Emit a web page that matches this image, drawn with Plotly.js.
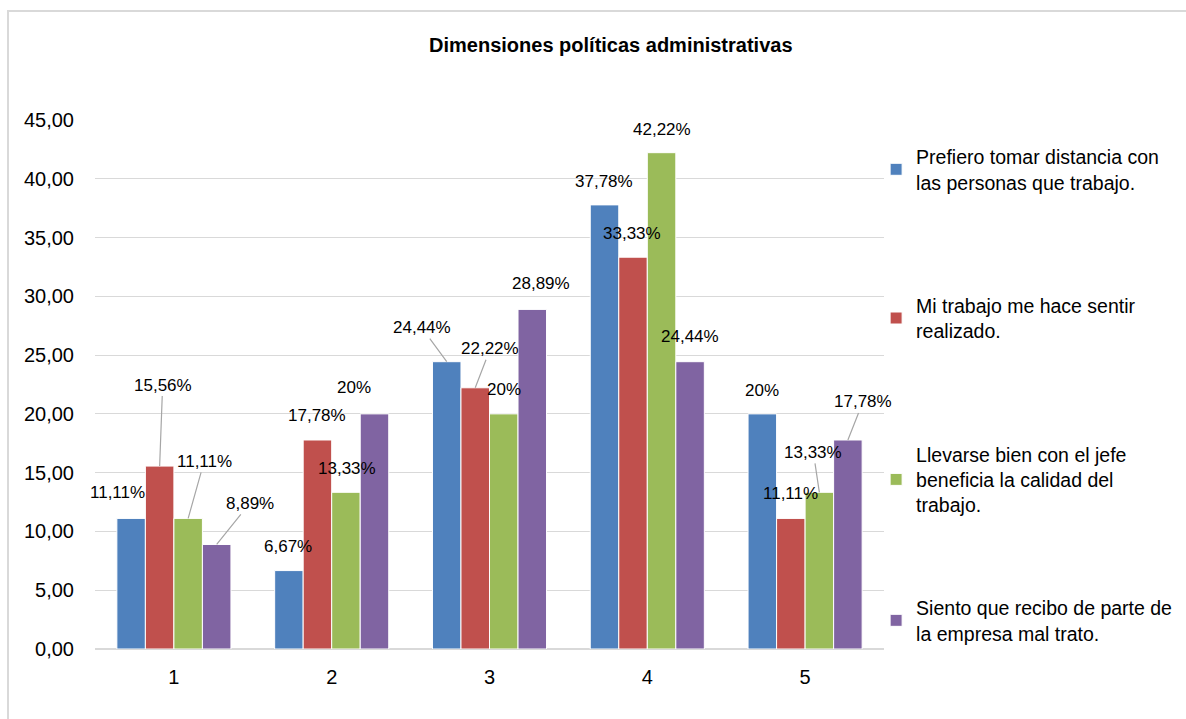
<!DOCTYPE html>
<html>
<head>
<meta charset="utf-8">
<script src="https://cdn.plot.ly/plotly-3.0.1.min.js"></script>
<style>
  html, body { margin: 0; padding: 0; background: #ffffff; }
  #wrap { position: relative; width: 1186px; height: 719px; overflow: hidden; }
  /* light frame around the chart area (open on the right and bottom) */
  #frame { position: absolute; left: 7px; top: 10px; width: 1300px; height: 800px;
           border-left: 2px solid #d9d9d9; border-top: 2px solid #d9d9d9; box-sizing: border-box; }
  #chart { position: absolute; left: 0; top: 0; width: 1186px; height: 719px; }
</style>
</head>
<body>
<div id="wrap">
  <div id="frame"></div>
  <div id="chart"></div>
</div>
<script>
// Categories on the x axis
const categories = [1, 2, 3, 4, 5];

// Series names (legend)
const seriesNames = [
  'Prefiero tomar distancia con<br>las personas que trabajo.',
  'Mi trabajo me hace sentir<br>realizado.',
  'Llevarse bien con el jefe<br>beneficia la calidad del<br>trabajo.',
  'Siento que recibo de parte de<br>la empresa mal trato.'
];

// Percentages per series, one value per category
const distancia   = [11.11, 6.67, 24.44, 37.78, 20];
const realizado   = [15.56, 17.78, 22.22, 33.33, 11.11];
const jefe        = [11.11, 13.33, 20, 42.22, 13.33];
const malTrato    = [8.89, 20, 28.89, 24.44, 17.78];

const seriesValues = [distancia, realizado, jefe, malTrato];
const seriesColors = ['#4f81bd', '#c0504d', '#9bbb59', '#8064a2'];

// Which legend box each series is listed in (the last entry sits in its own box lower down)
const seriesLegend = ['legend', 'legend', 'legend', 'legend2'];

// Label placement: [dx, dy, leader] in pixels from the top-centre of each bar
const labelPlacement = [
  [[-14, -26, false], [-1, -24, false], [-25, -34, true], [-1, -23, false], [0, -23, false]],
  [[3, -81, true],    [0, -24, false],  [15, -39, true],  [-1, -24, false], [0, -25, false]],
  [[16, -57, true],   [1, -24, false],  [0, -24, false],  [0, -23, false],  [-6, -40, true]],
  [[33, -41, true],   [-20, -26, false],[9, -26, false],  [0, -25, false],  [15, -38, true]]
];

const bargap = 0.277;
const nSeries = seriesValues.length;
const groupWidth = 1 - bargap;
const barWidth = groupWidth / nSeries;

function fmtPct(v) {
  if (Number.isInteger(v)) return v + '%';
  return v.toFixed(2).replace('.', ',') + '%';
}

const labelFont = { family: 'Liberation Sans, Arial, sans-serif', size: 17, color: '#000000' };

const traces = seriesValues.map((vals, i) => ({
  type: 'bar',
  name: seriesNames[i],
  x: categories,
  y: vals,
  marker: { color: seriesColors[i], line: { color: '#ffffff', width: 1 } },
  legend: seriesLegend[i],
  legendgroup: 'g' + i,
  hoverinfo: 'skip'
}));

const annotations = [];
seriesValues.forEach((vals, i) => {
  const off = -groupWidth / 2 + barWidth * (i + 0.5);
  vals.forEach((v, j) => {
    const [dx, dy, leader] = labelPlacement[i][j];
    const base = { x: categories[j] + off, y: v, xref: 'x', yref: 'y', text: fmtPct(v), font: labelFont };
    if (leader) {
      annotations.push(Object.assign(base, {
        showarrow: true, arrowhead: 0, arrowwidth: 1.2, arrowcolor: '#a6a6a6',
        ax: dx, ay: dy, standoff: 0
      }));
    } else {
      annotations.push(Object.assign(base, { showarrow: false, xshift: dx, yshift: -dy }));
    }
  });
});

const legendBase = {
  x: 0.99, xref: 'paper', xanchor: 'left',
  yref: 'paper', yanchor: 'top',
  traceorder: 'grouped',
  tracegroupgap: 95,
  maxheight: 700,
  font: { size: 19.5, color: '#000000' },
  bgcolor: 'rgba(0,0,0,0)',
  itemclick: false, itemdoubleclick: false
};

const layout = {
  width: 1186, height: 719,
  paper_bgcolor: 'rgba(0,0,0,0)',
  plot_bgcolor: 'rgba(0,0,0,0)',
  separators: ',.',
  font: { family: 'Liberation Sans, Arial, sans-serif', color: '#000000' },
  margin: { l: 95, r: 302, t: 120, b: 70, autoexpand: false },
  title: {
    text: '<b>Dimensiones políticas administrativas</b>',
    font: { family: 'Liberation Sans, Arial, sans-serif', size: 20, color: '#000000' },
    xref: 'container', x: 0.515, xanchor: 'center',
    yref: 'container', y: 0.937, yanchor: 'middle'
  },
  barmode: 'group',
  bargap: bargap,
  bargroupgap: 0,
  xaxis: {
    range: [0.5, 5.5],
    tickvals: categories,
    ticktext: categories.map(String),
    showgrid: false,
    zeroline: false,
    showline: false,
    ticks: '',
    ticklabelstandoff: 14,
    tickfont: { size: 20, color: '#000000' }
  },
  yaxis: {
    range: [0, 45],
    dtick: 5,
    tick0: 0,
    tickformat: '.2f',
    showgrid: true,
    gridcolor: '#d9d9d9',
    gridwidth: 1,
    zeroline: true,
    zerolinecolor: '#d9d9d9',
    zerolinewidth: 2,
    showline: false,
    ticks: '',
    ticklabelstandoff: 20,
    tickfont: { size: 20, color: '#000000' }
  },
  legend: Object.assign({}, legendBase, { y: 0.967 }),
  legend2: Object.assign({}, legendBase, { y: 0.1144 }),
  annotations: annotations,
  showlegend: true
};

Plotly.newPlot('chart', traces, layout, { displayModeBar: false, staticPlot: true });
</script>
</body>
</html>
